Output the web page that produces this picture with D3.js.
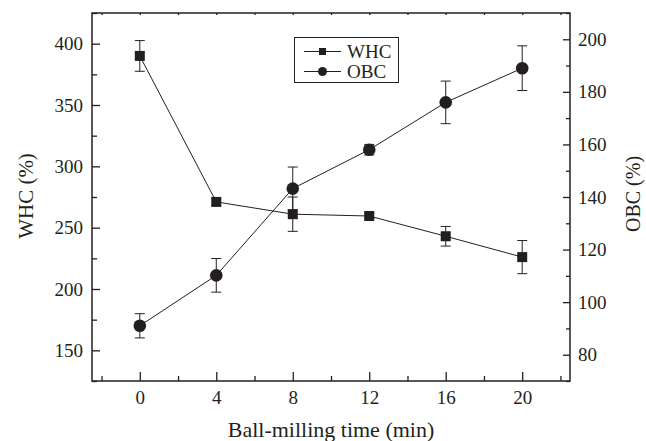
<!DOCTYPE html>
<html>
<head>
<meta charset="utf-8">
<script src="https://cdn.jsdelivr.net/npm/d3@7"></script>
<style>
  html, body { margin: 0; padding: 0; background: #fff; }
  svg { display: block; }
  text { font-family: "Liberation Serif", "Times New Roman", serif; fill: #231f20; }
</style>
</head>
<body>
<div id="chart"></div>
<script>
// ---- data ----
const times = [0, 4, 8, 12, 16, 20];
const whc = [390, 271, 261, 259.5, 243, 226];
const whcErr = [12.5, 3, 14, 2, 8, 13.5];
const obc = [91, 110.2, 143.2, 158, 176, 189];
const obcErr = [4.6, 6.4, 8.2, 2, 8.1, 8.5];
const xTicks = [0, 4, 8, 12, 16, 20];
const xMinor = [-2, 2, 6, 10, 14, 18, 22];
const yLeftTicks = [150, 200, 250, 300, 350, 400];
const yLeftMinor = [125, 175, 225, 275, 325, 375, 425];
const yRightTicks = [80, 100, 120, 140, 160, 180, 200];
const yRightMinor = [70, 90, 110, 130, 150, 170, 190, 210];
const seriesNames = ["WHC", "OBC"];

const W = 646, H = 441;
const ink = "#231f20";
const svg = d3.select("#chart").append("svg").attr("width", W).attr("height", H);

const x = d3.scaleLinear().domain([-2.5, 22.5]).range([92, 570]);
const yL = d3.scaleLinear().domain([125, 425]).range([381, 13]);
const yR = d3.scaleLinear().domain([70, 210]).range([381, 13]);

const tickFont = 19;

function styleAxis(g) {
  g.attr("font-family", null);
  g.select(".domain").remove();
  g.selectAll("line").attr("stroke", ink).attr("stroke-width", 1.3);
  g.selectAll("text").attr("font-size", tickFont).attr("fill", ink)
    .style("font-family", '"Liberation Serif", "Times New Roman", serif');
}

// bottom axis (ticks inward)
svg.append("g").attr("transform", "translate(0,381)")
  .call(d3.axisBottom(x).tickValues(xTicks).tickSizeInner(-9).tickSizeOuter(0).tickPadding(10))
  .call(styleAxis);
svg.append("g").attr("transform", "translate(0,381)")
  .call(d3.axisBottom(x).tickValues(xMinor).tickSizeInner(-5).tickSizeOuter(0).tickFormat(""))
  .call(styleAxis);
// top mirror ticks
svg.append("g").attr("transform", "translate(0,13)")
  .call(d3.axisTop(x).tickValues(xTicks.concat(xMinor)).tickSizeInner(-2).tickSizeOuter(0).tickFormat(""))
  .call(styleAxis);

// left axis
svg.append("g").attr("transform", "translate(92,0)")
  .call(d3.axisLeft(yL).tickValues(yLeftTicks).tickSizeInner(-8).tickSizeOuter(0).tickPadding(9))
  .call(styleAxis);
svg.append("g").attr("transform", "translate(92,0)")
  .call(d3.axisLeft(yL).tickValues(yLeftMinor).tickSizeInner(-5).tickSizeOuter(0).tickFormat(""))
  .call(styleAxis);

// right axis
svg.append("g").attr("transform", "translate(570,0)")
  .call(d3.axisRight(yR).tickValues(yRightTicks).tickSizeInner(-7).tickSizeOuter(0).tickPadding(8))
  .call(styleAxis);
svg.append("g").attr("transform", "translate(570,0)")
  .call(d3.axisRight(yR).tickValues(yRightMinor).tickSizeInner(-4).tickSizeOuter(0).tickFormat(""))
  .call(styleAxis);

// frame
svg.append("rect").attr("x", 92).attr("y", 13).attr("width", 478).attr("height", 368)
  .attr("fill", "none").attr("stroke", ink).attr("stroke-width", 1.5);

// axis titles
svg.append("text").attr("x", (92 + 570) / 2).attr("y", 437)
  .attr("text-anchor", "middle").attr("font-size", 22).text("Ball-milling time (min)");
svg.append("text").attr("transform", "translate(33,196) rotate(-90)")
  .attr("text-anchor", "middle").attr("font-size", 21).text("WHC (%)");
svg.append("text").attr("transform", "translate(640,194) rotate(-90)")
  .attr("text-anchor", "middle").attr("font-size", 20).text("OBC (%)");

// series
const whcData = times.map((t, i) => ({ t, v: whc[i], e: whcErr[i] }));
const obcData = times.map((t, i) => ({ t, v: obc[i], e: obcErr[i] }));

function drawSeries(data, yScale, shape) {
  const g = svg.append("g");
  g.append("path").datum(data)
    .attr("d", d3.line().x(d => x(d.t)).y(d => yScale(d.v)))
    .attr("fill", "none").attr("stroke", ink).attr("stroke-width", 1);
  const eb = g.selectAll(".eb").data(data).enter().append("g");
  eb.append("line").attr("x1", d => x(d.t)).attr("x2", d => x(d.t))
    .attr("y1", d => yScale(d.v - d.e)).attr("y2", d => yScale(d.v + d.e))
    .attr("stroke", ink).attr("stroke-width", 1);
  [-1, 1].forEach(s => {
    eb.append("line").attr("x1", d => x(d.t) - 5).attr("x2", d => x(d.t) + 5)
      .attr("y1", d => yScale(d.v + s * d.e)).attr("y2", d => yScale(d.v + s * d.e))
      .attr("stroke", ink).attr("stroke-width", 1);
  });
  if (shape === "square") {
    g.selectAll(".m").data(data).enter().append("rect")
      .attr("x", d => x(d.t) - 5).attr("y", d => yScale(d.v) - 5)
      .attr("width", 10).attr("height", 10).attr("fill", ink);
  } else {
    g.selectAll(".m").data(data).enter().append("circle")
      .attr("cx", d => x(d.t)).attr("cy", d => yScale(d.v)).attr("r", 6.3).attr("fill", ink);
  }
}
drawSeries(whcData, yL, "square");
drawSeries(obcData, yR, "circle");

// legend
const lg = svg.append("g");
lg.append("rect").attr("x", 294.5).attr("y", 37.5).attr("width", 104).attr("height", 45)
  .attr("fill", "#fff").attr("stroke", ink).attr("stroke-width", 1);
seriesNames.forEach((name, i) => {
  const cy = 51.5 + i * 20;
  lg.append("line").attr("x1", 304).attr("x2", 341).attr("y1", cy).attr("y2", cy)
    .attr("stroke", ink).attr("stroke-width", 1);
  if (i === 0) {
    lg.append("rect").attr("x", 322.5 - 3.5).attr("y", cy - 3.5).attr("width", 7).attr("height", 7).attr("fill", ink);
  } else {
    lg.append("circle").attr("cx", 322.5).attr("cy", cy).attr("r", 4.5).attr("fill", ink);
  }
  lg.append("text").attr("x", 347).attr("y", cy + 6.5).attr("font-size", 19).text(name);
});
</script>
</body>
</html>
